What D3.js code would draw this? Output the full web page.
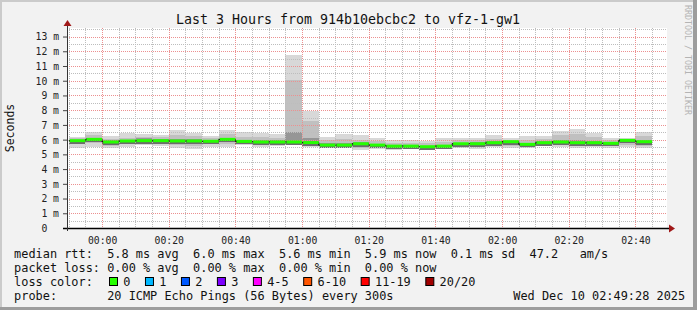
<!DOCTYPE html>
<html><head><meta charset="utf-8">
<script src="https://cdn.jsdelivr.net/npm/d3@7"></script>
<style>
html,body{margin:0;padding:0;background:#f2f2f2;}
svg{display:block;}
text{font-family:"DejaVu Sans Mono",monospace;white-space:pre;}
</style></head><body>
<svg id="c" width="697" height="310"></svg>
<script>
// ---------------- data ----------------
const title = "Last 3 Hours from 914b10ebcbc2 to vfz-1-gw1";
const yTickValues = [0,1,2,3,4,5,6,7,8,9,10,11,12,13];
const xTickLabels = ["00:00","00:20","00:40","01:00","01:20","01:40","02:00","02:20","02:40"];
const slots = ["23:50","23:55","00:00","00:05","00:10","00:15","00:20","00:25","00:30","00:35",
  "00:40","00:45","00:50","00:55","01:00","01:05","01:10","01:15","01:20","01:25",
  "01:30","01:35","01:40","01:45","01:50","01:55","02:00","02:05","02:10","02:15",
  "02:20","02:25","02:30","02:35","02:40"];
// values in ms
const median = [5.93,6.02,5.84,5.91,5.93,5.93,5.91,5.91,5.89,6.02,5.88,5.84,5.84,5.84,5.80,5.63,5.63,5.72,5.63,5.56,
  5.56,5.52,5.56,5.72,5.72,5.79,5.86,5.68,5.79,5.84,5.79,5.79,5.75,5.95,5.86];
const smokeMax = [6.20,6.50,6.27,6.47,6.36,6.31,6.65,6.47,6.27,6.65,6.50,6.43,6.36,11.74,7.95,6.15,6.36,6.34,6.09,5.97,
  5.97,5.90,6.09,6.09,6.09,6.31,6.09,6.25,6.25,6.61,6.70,6.47,6.13,6.09,6.54];
const smokeMidHi = [6.10,6.30,6.05,6.10,6.20,6.15,6.30,6.25,6.10,6.35,6.20,6.20,6.10,10.05,7.26,6.00,6.05,6.00,5.90,5.80,
  5.80,5.75,5.85,5.95,5.95,6.05,6.00,6.00,6.05,6.30,6.35,6.20,5.95,6.05,6.25];
const smokeCoreHi = [6.00,6.12,5.95,6.00,6.08,6.05,6.05,6.05,5.98,6.12,6.00,5.95,5.95,6.54,6.10,5.75,5.75,5.82,5.72,5.65,
  5.65,5.60,5.66,5.80,5.82,5.88,5.92,5.78,5.88,5.95,5.95,5.90,5.85,6.02,5.95];
const smokeCoreLo = [5.85,5.92,5.75,5.82,5.85,5.85,5.78,5.78,5.80,5.90,5.80,5.75,5.76,5.78,5.72,5.58,5.55,5.60,5.55,5.50,
  5.50,5.48,5.50,5.65,5.65,5.72,5.72,5.60,5.72,5.72,5.68,5.70,5.65,5.85,5.72];
const smokeMidLo = [5.70,5.75,5.60,5.70,5.75,5.72,5.65,5.60,5.68,5.70,5.72,5.65,5.68,5.70,5.65,5.55,5.50,5.45,5.48,5.42,
  5.48,5.46,5.45,5.55,5.55,5.62,5.58,5.55,5.70,5.65,5.60,5.65,5.55,5.65,5.60];
const smokeMin = [5.45,5.50,5.41,5.52,5.64,5.59,5.45,5.36,5.52,5.52,5.63,5.52,5.57,5.63,5.52,5.52,5.40,5.30,5.36,5.29,
  5.41,5.41,5.36,5.41,5.36,5.52,5.41,5.45,5.64,5.52,5.45,5.52,5.41,5.52,5.41];
const lossLabels = ["0","1","2","3","4-5","6-10","11-19","20/20"];
const lossColors = ["#26ff00","#00b8ff","#0059ff","#7e00ff","#ff00ff","#ff5500","#ff0000","#a00000"];
const legendRows = [
  "median rtt:  5.8 ms avg  6.0 ms max  5.6 ms min  5.9 ms now  0.1 ms sd  47.2   am/s",
  "packet loss: 0.00 % avg  0.00 % max  0.00 % min  0.00 % now",
  "loss color:",
  "probe:       20 ICMP Echo Pings (56 Bytes) every 300s"
];
const stamp = "Wed Dec 10 02:49:28 2025";
const yLabel = "Seconds";
const watermark = "RRDTOOL / TOBI OETIKER";

// ---------------- drawing ----------------
const W = 697, H = 310;
const svg = d3.select("#c");
const parseSlot = s => { const [h,m] = s.split(":").map(Number); return new Date(Date.UTC(2025,11,h>=12?9:10,h,m)); };
const start = new Date(Date.UTC(2025,11,9,23,49,28));
const end = new Date(Date.UTC(2025,11,10,2,49,28));
const L = 67, R = 667, T = 28, B = 228;
const x = d3.scaleUtc().domain([start,end]).range([L,R]);
const y = d3.scaleLinear().domain([0,13.58]).range([B,T]);

// frame
svg.append("rect").attr("width",W).attr("height",H).attr("fill","#f2f2f2");
svg.append("rect").attr("x",0).attr("y",0).attr("width",W).attr("height",2).attr("fill","#cbcbcb");
svg.append("rect").attr("x",0).attr("y",0).attr("width",2).attr("height",H).attr("fill","#cbcbcb");
svg.append("rect").attr("x",0).attr("y",H-3).attr("width",W).attr("height",3).attr("fill","#9d9d9d");
svg.append("rect").attr("x",W-4).attr("y",0).attr("width",4).attr("height",H).attr("fill","#9d9d9d");

// canvas
svg.append("rect").attr("x",L).attr("y",T).attr("width",R-L).attr("height",B-T).attr("fill","#ffffff");

// smoke
const cols = slots.map((s,i)=>({t0:parseSlot(s), t1:d3.utcMinute.offset(parseSlot(s),5), i}));
const layers = [
  {lo:smokeMin, hi:smokeMax, c:"#d8d8d8"},
  {lo:smokeMidLo, hi:smokeMidHi, c:"#c0c0c0"},
  {lo:smokeCoreLo, hi:smokeCoreHi, c:"#969696"}
];
const gS = svg.append("g");
layers.forEach(ly=>{
  gS.selectAll(null).data(cols).enter().append("rect")
    .attr("x",d=>x(d.t0)).attr("width",d=>x(d.t1)-x(d.t0))
    .attr("y",d=>y(ly.hi[d.i])).attr("height",d=>y(ly.lo[d.i])-y(ly.hi[d.i]))
    .attr("fill",ly.c).attr("shape-rendering","crispEdges");
});
gS.selectAll(null).data(cols).enter().append("rect")
  .attr("x",d=>x(d.t0)).attr("width",d=>x(d.t1)-x(d.t0))
  .attr("y",d=>y(median[d.i])-1).attr("height",4)
  .attr("fill","#6c6c6c").attr("shape-rendering","crispEdges");

// grid
const gG = svg.append("g").attr("shape-rendering","crispEdges");
const minorX = d3.utcMinute.every(5).range(start,end);
const majorX = d3.utcMinute.every(20).range(start,end);
const minorY = d3.range(0.5,13.6,1);
gG.selectAll(null).data(minorX.filter(t=>t.getUTCMinutes()%20!==0)).enter().append("line")
  .attr("x1",d=>Math.round(x(d))+0.5).attr("x2",d=>Math.round(x(d))+0.5).attr("y1",T).attr("y2",B)
  .attr("stroke","#bdbdbd").attr("stroke-dasharray","1,1");
gG.selectAll(null).data(minorY).enter().append("line")
  .attr("x1",L).attr("x2",R).attr("y1",d=>Math.round(y(d))+0.5).attr("y2",d=>Math.round(y(d))+0.5)
  .attr("stroke","#bdbdbd").attr("stroke-dasharray","1,1");
gG.selectAll(null).data(majorX).enter().append("line")
  .attr("x1",d=>Math.round(x(d))+0.5).attr("x2",d=>Math.round(x(d))+0.5).attr("y1",T).attr("y2",B)
  .attr("stroke","#ec9090").attr("stroke-dasharray","1,1");
gG.selectAll(null).data(yTickValues.filter(v=>v>0)).enter().append("line")
  .attr("x1",L).attr("x2",R).attr("y1",d=>Math.round(y(d))+0.5).attr("y2",d=>Math.round(y(d))+0.5)
  .attr("stroke","#ec9090").attr("stroke-dasharray","1,1");

// median line
const stepData = cols.map(d=>[x(d.t0), y(median[d.i])]);
const lastC = cols[cols.length-1];
stepData.push([x(lastC.t1), y(median[lastC.i])]);
svg.append("path").attr("d", d3.line().curve(d3.curveStepAfter)(stepData))
  .attr("fill","none").attr("stroke","#000").attr("stroke-width",1);
svg.append("g").selectAll(null).data(cols).enter().append("line")
  .attr("x1",d=>x(d.t0)+1).attr("x2",d=>x(d.t1))
  .attr("y1",d=>y(median[d.i])).attr("y2",d=>y(median[d.i]))
  .attr("stroke",lossColors[0]).attr("stroke-width",3);

// axes
const xAxis = d3.axisBottom(x).tickValues(majorX).tickFormat(d3.utcFormat("%H:%M")).tickSize(0).tickPadding(9);
const gx = svg.append("g").attr("transform",`translate(0,${B})`).call(xAxis);
gx.select(".domain").remove();
gx.selectAll("text").attr("font-family","DejaVu Sans Mono").attr("font-size","9.75px").attr("fill","#222");
const yAxis = d3.axisLeft(y).tickValues(yTickValues).tickFormat(v=>v===0?"0  ":v+" m").tickSize(4).tickPadding(4);
const gy = svg.append("g").attr("transform",`translate(${L},0)`).call(yAxis);
gy.select(".domain").remove();
gy.selectAll(".tick line").attr("stroke","#444");
gy.selectAll("text").attr("font-family","DejaVu Sans Mono").attr("font-size","9.75px").attr("fill","#222").attr("dy","0.35em");
svg.append("line").attr("x1",L-4).attr("x2",R+2).attr("y1",B+0.5).attr("y2",B+0.5).attr("stroke","#000").attr("stroke-width",1.3);
svg.append("line").attr("x1",L+0.5).attr("x2",L+0.5).attr("y1",B+3).attr("y2",T-4).attr("stroke","#333").attr("stroke-width",1);
svg.append("path").attr("d",`M${R+2},${B-3.5}L${R+8},${B+0.5}L${R+2},${B+4.5}Z`).attr("fill","#a01818");
svg.append("path").attr("d",`M${L-3.5},${T-2}L${L+0.5},${T-8}L${L+4.5},${T-2}Z`).attr("fill","#a01818");

// title
svg.append("text").attr("x",348).attr("y",23.5).attr("text-anchor","middle")
  .attr("font-size","13.3px").attr("fill","#111").text(title);
svg.append("text").attr("transform","translate(14,128) rotate(-90)").attr("text-anchor","middle")
  .attr("font-size","11.5px").attr("fill","#111").text(yLabel);
svg.append("text").attr("transform","translate(684.5,5) rotate(90)").attr("text-anchor","start")
  .attr("font-size","8.3px").attr("fill","#b4b4b4").text(watermark);

// legend
const lx = 14.1, fs = "11.9px", cw = 7.17;
const rowY = [258, 272, 286, 300];
legendRows.forEach((r,i)=>{
  svg.append("text").attr("x",lx).attr("y",rowY[i]).attr("font-size",fs).attr("fill","#111").text(r);
});
let bx = 109;
lossLabels.forEach((lab,i)=>{
  svg.append("rect").attr("x",bx+0.5).attr("y",277.5).attr("width",8).attr("height",8)
    .attr("fill",lossColors[i]).attr("stroke","#000").attr("stroke-width",1);
  svg.append("text").attr("x",bx+14.3).attr("y",rowY[2]).attr("font-size",fs).attr("fill","#111").text(lab);
  bx = bx + 14.3 + lab.length*cw + 14.5;
});
svg.append("text").attr("x",513.3).attr("y",rowY[3]).attr("font-size",fs).attr("fill","#111").text(stamp);
</script>
</body></html>
